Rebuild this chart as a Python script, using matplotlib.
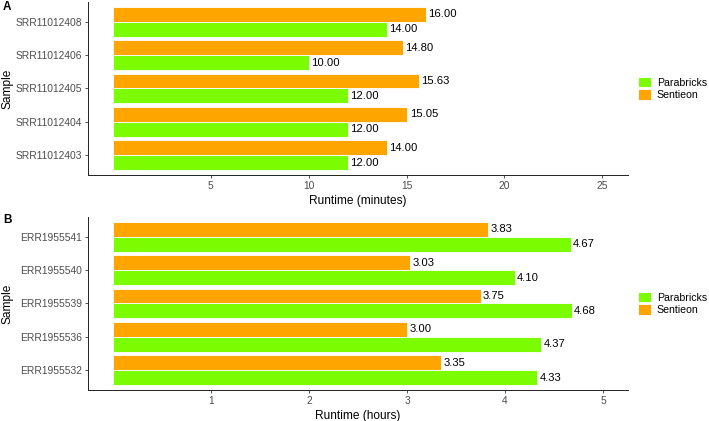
import numpy as np
import matplotlib
matplotlib.use("Agg")
import matplotlib.pyplot as plt
from matplotlib.patches import Patch

plt.rcParams['font.family'] = ['Liberation Sans', 'DejaVu Sans']

# Panel A data (minutes), samples listed top to bottom
samples_a = ["SRR11012408", "SRR11012406", "SRR11012405", "SRR11012404", "SRR11012403"]
sentieon_a = [16.00, 14.80, 15.63, 15.05, 14.00]
parabricks_a = [14.00, 10.00, 12.00, 12.00, 12.00]

# Panel B data (hours)
samples_b = ["ERR1955541", "ERR1955540", "ERR1955539", "ERR1955536", "ERR1955532"]
sentieon_b = [3.83, 3.03, 3.75, 3.00, 3.35]
parabricks_b = [4.67, 4.10, 4.68, 4.37, 4.33]

ticks_a = [5, 10, 15, 20, 25]
ticks_b = [1, 2, 3, 4, 5]

green = "#7CFC00"
orange = "#FFA500"
grey_txt = "#4D4D4D"

fig = plt.figure(figsize=(7.09, 4.21), dpi=100)
ax_a = fig.add_axes([0.1245, 0.5843, 0.7608, 0.411])
ax_b = fig.add_axes([0.1245, 0.0736, 0.7608, 0.411])


def draw_panel(ax, samples, sent, para, ticks, xlim, xlabel):
    n = len(samples)
    pos = np.arange(n)[::-1]
    h = 0.45
    ax.barh(pos + h / 2, sent, height=h, color=orange, edgecolor="white", linewidth=0.6)
    ax.barh(pos - h / 2, para, height=h, color=green, edgecolor="white", linewidth=0.6)
    off = (xlim[1] - xlim[0]) * 0.004
    for p, v in zip(pos, sent):
        ax.text(v + off, p + h / 2, f"{v:.2f}", va="center", ha="left", fontsize=8.1)
    for p, v in zip(pos, para):
        ax.text(v + off, p - h / 2, f"{v:.2f}", va="center", ha="left", fontsize=8.1)
    ax.set_xlim(*xlim)
    ax.set_ylim(-0.6, n - 1 + 0.6)
    ax.set_yticks(pos)
    ax.set_yticklabels(samples)
    ax.set_xticks(ticks)
    ax.tick_params(axis="both", labelsize=7.4, labelcolor=grey_txt, length=2.5,
                   width=0.6, color="#333333", pad=2)
    for s in ["top", "right"]:
        ax.spines[s].set_visible(False)
    for s in ["left", "bottom"]:
        ax.spines[s].set_linewidth(0.7)
        ax.spines[s].set_color("#222222")
    ax.set_xlabel(xlabel, fontsize=8.6, labelpad=3)
    ax.set_ylabel("Sample", fontsize=8.6)
    ax.yaxis.set_label_coords(-0.138, 0.5)
    handles = [Patch(facecolor=green, edgecolor="white", linewidth=0.6),
               Patch(facecolor=orange, edgecolor="white", linewidth=0.6)]
    ax.legend(handles, ["Parabricks", "Sentieon"], loc="center left",
              bbox_to_anchor=(1.02, 0.5), frameon=False, fontsize=7.6,
              handlelength=1.15, handleheight=1.15, labelspacing=0.15,
              handletextpad=0.6, borderpad=0, borderaxespad=0)


draw_panel(ax_a, samples_a, sentieon_a, parabricks_a, ticks_a, (-1.26, 26.3), "Runtime (minutes)")
draw_panel(ax_b, samples_b, sentieon_b, parabricks_b, ticks_b, (-0.25, 5.25), "Runtime (hours)")

fig.text(0.004, 0.998, "A", fontsize=8.5, fontweight="bold", va="top", ha="left")
fig.text(0.004, 0.492, "B", fontsize=8.5, fontweight="bold", va="top", ha="left")

fig.savefig("out.png", dpi=100)
